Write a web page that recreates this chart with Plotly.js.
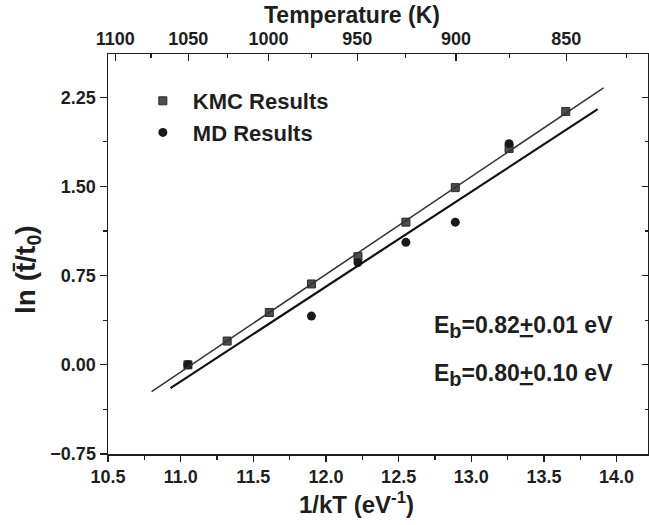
<!DOCTYPE html>
<html><head><meta charset="utf-8">
<script src="https://cdn.plot.ly/plotly-3.0.1.min.js"></script>
<style>html,body{margin:0;padding:0;background:#fff}#chart{width:649px;height:525px}</style>
</head><body><div id="chart"></div>
<script>
// KMC results (1/kT in eV^-1, ln(t/t0))
const kmcX = [11.05, 11.32, 11.61, 11.90, 12.22, 12.55, 12.89, 13.26, 13.65];
const kmcY = [0.00, 0.20, 0.44, 0.68, 0.91, 1.20, 1.49, 1.82, 2.13];
// MD results
const mdX = [11.05, 11.90, 12.22, 12.55, 12.89, 13.26];
const mdY = [0.00, 0.41, 0.86, 1.03, 1.20, 1.86];
// Fit lines (end points)
const kmcFitX = [10.80, 13.91];
const kmcFitY = [-0.225, 2.33];
const mdFitX = [10.93, 13.87];
const mdFitY = [-0.196, 2.15];
// Top axis: temperature labels (K)
const tempTicks = [1100, 1050, 1000, 950, 900, 850];
const tempMinor = [1075, 1025, 975, 925, 875, 825];
const kB = 8.617e-5;
const SUBB = '<sub><span style="font-size:20px">b</span></sub>';
const annText = ['E' + SUBB + '=0.82<u>+</u>0.01 eV', 'E' + SUBB + '=0.80<u>+</u>0.10 eV'];

const FONT = 'Liberation Sans, Arial, sans-serif';
const INK = '#1e1e1e';
const XR = [10.5, 14.216];
const YR = [-0.75, 2.614];
const toInv = T => 1 / (kB * T);

const traces = [
  {x: kmcX, y: kmcY, mode: 'markers', name: '<b>KMC Results</b>', legendgroup: 'a',
   marker: {symbol: 'square', size: 8, color: '#4d4d4d', line: {color: '#2a2a2a', width: 1}}},
  {x: mdX, y: mdY, mode: 'markers', name: '<b>MD Results</b>', legendgroup: 'b',
   marker: {symbol: 'circle', size: 9, color: '#1a1a1a'}},
  {x: kmcFitX, y: kmcFitY, mode: 'lines', showlegend: false, line: {color: '#333', width: 1.5}},
  {x: mdFitX, y: mdFitY, mode: 'lines', showlegend: false, line: {color: '#111', width: 2.2}},
  {x: kmcX, y: kmcY, xaxis: 'x2', yaxis: 'y2', mode: 'markers', showlegend: false,
   hoverinfo: 'skip', marker: {opacity: 0}}
];

const axBase = {showline: true, linecolor: INK, linewidth: 1.5, showgrid: false, zeroline: false,
  tickcolor: INK, tickwidth: 1.3, tickfont: {family: FONT, size: 18, color: INK, weight: 'bold'}};

const layout = {
  width: 649, height: 525,
  margin: {l: 108, r: 1, t: 54, b: 71},
  paper_bgcolor: '#fff', plot_bgcolor: '#fff',
  font: {family: FONT, color: INK},
  showlegend: true,
  legend: {x: 0.046, y: 0.935, xanchor: 'left', yanchor: 'top', bgcolor: 'rgba(0,0,0,0)',
    font: {family: FONT, size: 22, color: INK}, traceorder: 'grouped', tracegroupgap: 0, itemwidth: 50},
  xaxis: Object.assign({}, axBase, {range: XR, tickmode: 'linear', tick0: 10.5, dtick: 0.5,
    tickformat: '.1f', ticks: 'outside', ticklen: 6,
    minor: {tickmode: 'linear', tick0: 10.5, dtick: 0.25, ticks: 'outside', ticklen: 4, tickcolor: INK, tickwidth: 1.2}}),
  yaxis: Object.assign({}, axBase, {range: YR, tickmode: 'linear', tick0: -0.75, dtick: 0.75,
    tickformat: '.2f', ticks: 'outside', ticklen: 7,
    minor: {tickmode: 'linear', tick0: -0.75, dtick: 0.375, ticks: 'outside', ticklen: 4, tickcolor: INK, tickwidth: 1.2}}),
  xaxis2: Object.assign({}, axBase, {overlaying: 'x', side: 'top', anchor: 'y', range: XR,
    tickmode: 'array', tickvals: tempTicks.map(toInv), ticktext: tempTicks.map(String),
    ticks: 'inside', ticklen: 7,
    minor: {tickmode: 'array', tickvals: tempMinor.map(toInv), ticks: 'inside', ticklen: 4, tickcolor: INK, tickwidth: 1.2}}),
  yaxis2: Object.assign({}, axBase, {overlaying: 'y', side: 'right', anchor: 'x', range: YR,
    tickmode: 'linear', tick0: -0.75, dtick: 0.75, ticks: 'inside', ticklen: 6, showticklabels: false,
    minor: {tickmode: 'linear', tick0: -0.75, dtick: 0.375, ticks: 'inside', ticklen: 3, tickcolor: INK, tickwidth: 1.2}}),
  annotations: [
    {text: '<b>Temperature (K)</b>', xref: 'paper', yref: 'paper', x: 0.452, y: 1.0975,
     xanchor: 'center', yanchor: 'middle', showarrow: false, font: {family: FONT, size: 23, color: INK}},
    {text: '<b>1/kT (eV<sup>-1</sup>)</b>', xref: 'paper', yref: 'paper', x: 0.461, y: -0.122,
     xanchor: 'center', yanchor: 'middle', showarrow: false, font: {family: FONT, size: 24, color: INK}},
    {text: '<b>ln (t\u0304/t<sub>0</sub>)</b>', xref: 'paper', yref: 'paper', x: -0.15, y: 0.46,
     xanchor: 'center', yanchor: 'middle', textangle: -90, showarrow: false, font: {family: FONT, size: 28, color: INK}},
    {text: '<b>' + annText[0] + '</b>', xref: 'paper', yref: 'paper', x: 0.6, y: 0.3175,
     xanchor: 'left', yanchor: 'middle', showarrow: false, font: {family: FONT, size: 23, color: INK}},
    {text: '<b>' + annText[1] + '</b>', xref: 'paper', yref: 'paper', x: 0.6, y: 0.1975,
     xanchor: 'left', yanchor: 'middle', showarrow: false, font: {family: FONT, size: 23, color: INK}}
  ]
};

Plotly.newPlot('chart', traces, layout, {displayModeBar: false, staticPlot: true});
</script>
</body></html>
